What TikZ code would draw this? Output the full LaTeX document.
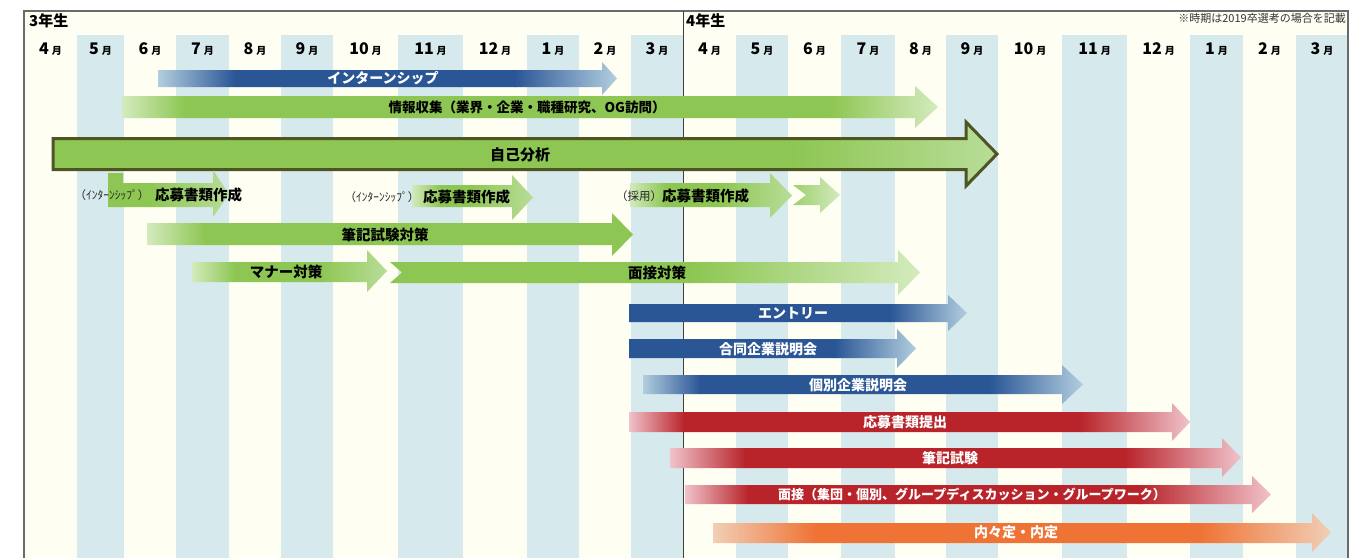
\documentclass[tikz,border=0pt]{standalone}
\usepackage{fontspec}
\setmainfont{Noto Sans CJK JP}
\definecolor{cream}{HTML}{FFFEF3}
\definecolor{stripe}{HTML}{D6E9EC}
\definecolor{grn}{HTML}{8DC652}
\definecolor{grnL}{HTML}{D4EBBE}
\definecolor{grnM}{HTML}{B9DD99}
\definecolor{blu}{HTML}{2A5696}
\definecolor{bluL}{HTML}{B3CEDF}
\definecolor{rd}{HTML}{B8242A}
\definecolor{rdL}{HTML}{F1C3CB}
\definecolor{org}{HTML}{EF7335}
\definecolor{orgL}{HTML}{F1CFB6}
\definecolor{olive}{HTML}{4E5422}
\definecolor{framec}{HTML}{6A6A6A}
\newcommand\gseg[4]{\shade[left color=#3,right color=#4] ({#1-0.5},\gya) rectangle ({#2+0.5},\gyb);}
\newcommand\gsol[3]{\fill[#3] ({#1-0.5},\gya) rectangle ({#2+0.5},\gyb);}
\newcommand\garrow[8]{%
  \begin{scope}
  \def\gya{#6}\def\gyb{#7}%
  \clip (#1,#4) -- (#2,#4) -- (#2,#6) -- (#3,{(#6+#7)/2}) -- (#2,#7) -- (#2,#5) -- (#1,#5) -- cycle;
  #8
  \end{scope}}
\newcommand\mlab[1]{{\fontsize{16}{16}\selectfont\bfseries #1}\hspace{3pt}{\fontsize{10}{10}\selectfont\bfseries 月}}
\tikzset{
  month/.style={inner sep=0pt, anchor=base},
  blab/.style={inner sep=0pt, text=black, font=\fontsize{14.5}{15}\selectfont\bfseries},
  wlab/.style={inner sep=0pt, text=white, font=\fontsize{14}{15}\selectfont\bfseries},
  slab/.style={inner sep=0pt, text=black!85, font=\fontsize{11.5}{12}\selectfont},
  yearlab/.style={inner sep=0pt, anchor=west, font=\fontsize{15}{16}\selectfont\bfseries},
}
\begin{document}
\begin{tikzpicture}[x=1pt,y=-1pt]
\useasboundingbox (0,0) rectangle (1363,558);
\fill[white] (0,0) rectangle (1363,558);
\fill[cream] (24,11) rectangle (1348,558);
% stripes
\foreach \a/\b in {77/124,176/229,281/333,398/463,527/579,631/683,736/788,841/895,946/998,1062/1127,1190/1243,1296/1348}
  \fill[stripe] (\a,35) rectangle (\b,558);
% frame
\draw[framec, line width=1.2pt] (24,558) -- (24,11) -- (1348,11) -- (1348,558);
\draw[black!75, line width=0.9pt] (683,11) -- (683,558);
% header
\node[yearlab] (y3) at (29,21) {3年生};
\node[yearlab] (y4) at (686,21) {4年生};
\node[inner sep=0pt, anchor=east, text=black!80, font=\fontsize{11}{12}\selectfont] (note) at (1346,18) {※時期は2019卒選考の場合を記載};
% months
\foreach \c/\m [count=\i] in {50.5/4,100.5/5,150/6,202.5/7,255/8,307/9,365.5/10,430.5/11,495/12,553/1,605/2,657/3,709.5/4,762/5,814.5/6,868/7,920.5/8,972/9,1030/10,1094.5/11,1158.5/12,1216.5/1,1269.5/2,1322/3}
  \node[month] (mo\i) at (\c,54) {\mlab{\m}};
% intern (blue)
\garrow{158}{602}{617}{70}{87}{62}{95}{\gseg{158}{235}{bluL}{blu}\gsol{235}{515}{blu}\gseg{515}{617}{blu}{bluL}}
% info
\garrow{122}{915}{938}{96}{118}{86}{128}{\gseg{122}{185}{grnL}{grn}\gsol{185}{830}{grn}\gseg{830}{938}{grn}{grnL}}
% jiko bunseki
\begin{scope}
  \def\gya{120}\def\gyb{188}
  \clip (53,138.5) -- (966,138.5) -- (966,122) -- (997,154) -- (966,186) -- (966,169.5) -- (53,169.5) -- cycle;
  \gsol{53}{790}{grn}\gseg{790}{998}{grn}{grnM}
\end{scope}
\draw[olive, line width=3pt] (53,138.5) -- (966,138.5) -- (966,122) -- (997,154) -- (966,186) -- (966,169.5) -- (53,169.5) -- cycle;
% L arrow (intern apply 1)
\begin{scope}
  \def\gya{168}\def\gyb{219}
  \clip (108,173) -- (123,173) -- (123,183) -- (213,183) -- (213,170) -- (229,194) -- (213,217) -- (213,207) -- (108,207) -- cycle;
  \gsol{108}{150}{grn}\gseg{150}{229}{grn}{grnM}
\end{scope}
% intern apply 2
\garrow{412}{512}{533}{185}{207}{175}{220}{\gseg{412}{440}{grnL}{grn}\gsol{440}{470}{grn}\gseg{470}{533}{grn}{grnM}}
% saiyo apply
\garrow{630}{770}{792}{183}{207}{173}{218}{\gseg{630}{665}{grnL}{grn}\gsol{665}{720}{grn}\gseg{720}{792}{grn}{grnM}}
\begin{scope}
  \def\gya{175}\def\gyb{215}
  \clip (793,185) -- (820,185) -- (820,177) -- (840,195) -- (820,213) -- (820,205) -- (793,205) -- (806,195) -- cycle;
  \gseg{793}{840}{grn!85!white}{grnL}
\end{scope}
% hikki taisaku
\garrow{147}{612}{633}{223}{245}{213}{256}{\gseg{147}{205}{grnL}{grn}\gsol{205}{633}{grn}}
% manner
\garrow{192}{367}{387}{262}{282}{250}{292}{\gseg{192}{235}{grnL}{grn}\gsol{235}{320}{grn}\gseg{320}{387}{grn}{grnM}}
% mensetsu taisaku
\begin{scope}
  \def\gya{248}\def\gyb{297}
  \clip (390,262) -- (898,262) -- (898,250) -- (920,272.5) -- (898,295) -- (898,283) -- (390,283) -- (402,272.5) -- cycle;
  \gsol{390}{690}{grn}\gseg{690}{920}{grn}{grnL}
\end{scope}
% blue
\garrow{629}{948}{967}{304}{322}{295}{331}{\gsol{629}{890}{blu}\gseg{890}{967}{blu}{bluL}}
\garrow{629}{897}{916}{339}{358}{329}{368}{\gsol{629}{835}{blu}\gseg{835}{916}{blu}{bluL}}
\garrow{643}{1062}{1083}{375}{394}{365}{404}{\gseg{643}{700}{bluL}{blu}\gsol{700}{990}{blu}\gseg{990}{1083}{blu}{bluL}}
% red
\garrow{629}{1172}{1190}{412}{432}{403}{441}{\gseg{629}{684}{rdL}{rd}\gsol{684}{1080}{rd}\gseg{1080}{1190}{rd}{rdL}}
\garrow{670}{1222}{1241}{448}{468}{438}{477}{\gseg{670}{745}{rdL}{rd}\gsol{745}{1125}{rd}\gseg{1125}{1241}{rd}{rdL}}
\garrow{685}{1252}{1271}{485}{504}{476}{513}{\gseg{685}{748}{rdL}{rd}\gsol{748}{1140}{rd}\gseg{1140}{1271}{rd}{rdL}}
% orange
\garrow{713}{1312}{1331}{523}{543}{513}{552}{\gseg{713}{815}{orgL}{org}\gsol{815}{1200}{org}\gseg{1200}{1331}{org}{orgL}}
% labels
\node[wlab] (tIntern) at (383,78) {インターンシップ};
\node[blab, font=\fontsize{13.5}{14}\selectfont\bfseries] (tInfo) at (527,107) {情報収集（業界・企業・職種研究、OG訪問）};
\node[blab, font=\fontsize{15}{16}\selectfont\bfseries] (tJiko) at (520,155) {自己分析};
\node[slab] (tA1s) at (112,195) {（ｲﾝﾀｰﾝｼｯﾌﾟ）};
\node[blab, anchor=west] (tA1) at (155,195) {応募書類作成};
\node[slab] (tA2s) at (382,197) {（ｲﾝﾀｰﾝｼｯﾌﾟ）};
\node[blab, anchor=west] (tA2) at (423,197) {応募書類作成};
\node[slab] (tA3s) at (639,196) {（採用）};
\node[blab, anchor=west] (tA3) at (662,196) {応募書類作成};
\node[blab] (tHikkiT) at (385,235) {筆記試験対策};
\node[blab] (tManner) at (286,272) {マナー対策};
\node[blab] (tMenT) at (657,273) {面接対策};
\node[wlab] (tEntry) at (793,313) {エントリー};
\node[wlab] (tGodo) at (768,349) {合同企業説明会};
\node[wlab] (tKobetsu) at (858,385) {個別企業説明会};
\node[wlab] (tTeishutsu) at (905,422) {応募書類提出};
\node[wlab] (tHikki) at (950,458) {筆記試験};
\node[wlab, font=\fontsize{13}{14}\selectfont\bfseries] (tMen) at (972,494) {面接（集団・個別、グループディスカッション・グループワーク）};
\node[wlab] (tNaitei) at (1016,532) {内々定・内定};
\end{tikzpicture}
\end{document}
